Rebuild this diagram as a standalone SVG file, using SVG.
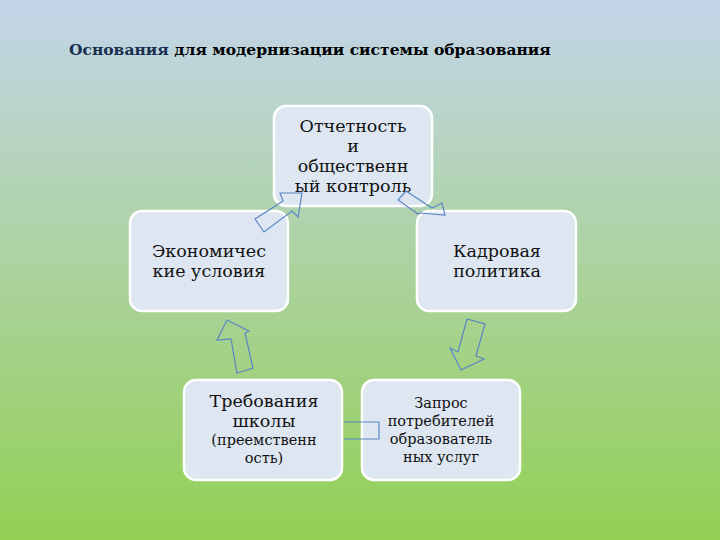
<svg xmlns="http://www.w3.org/2000/svg" width="720" height="540" viewBox="0 0 720 540">
<defs>
<linearGradient id="bg" x1="0" y1="0" x2="0" y2="1">
<stop offset="0" stop-color="#c3d5ea"/>
<stop offset="0.35" stop-color="#b2d3b4"/>
<stop offset="1" stop-color="#93d054"/>
</linearGradient>
<style>
.box{fill:#dde6f1;stroke:#ffffff;stroke-width:2.5}
.t{font-family:'DejaVu Serif','Liberation Serif',serif;font-size:17.5px;fill:#111;text-anchor:middle}
.s{font-size:14.5px}
.arr{fill:none;stroke:#5b86c6;stroke-width:1.2}
</style>
</defs>
<rect width="720" height="540" fill="url(#bg)"/>
<text x="69" y="55" font-family="'DejaVu Serif','Liberation Serif',serif" font-size="15.5" font-weight="bold" fill="#000"><tspan fill="#17304f">Основания</tspan> для модернизации системы образования</text>
<g id="n1"><rect class="box" x="274" y="106" width="158" height="100" rx="12"/>
<text class="t" x="353" y="132">Отчетность</text><text class="t" x="353" y="152">и</text><text class="t" x="353" y="172">общественн</text><text class="t" x="353" y="192">ый контроль</text></g>
<g id="n2"><rect class="box" x="417" y="211" width="159" height="100" rx="12"/>
<text class="t" x="497" y="257">Кадровая</text><text class="t" x="497" y="277">политика</text></g>
<g id="n3"><rect class="box" x="362" y="380" width="158" height="100" rx="12"/>
<text class="t s" x="441" y="408">Запрос</text><text class="t s" x="441" y="426">потребителей</text><text class="t s" x="441" y="444">образователь</text><text class="t s" x="441" y="462">ных услуг</text></g>
<g id="n4"><rect class="box" x="184" y="380" width="158" height="100" rx="12"/>
<text class="t" x="264" y="407">Требования</text><text class="t" x="264" y="427">школы</text><text class="t s" x="264" y="445">(преемственн</text><text class="t s" x="264" y="463">ость)</text></g>
<g id="n5"><rect class="box" x="130" y="211" width="158" height="100" rx="12"/>
<text class="t" x="209" y="257">Экономичес</text><text class="t" x="209" y="277">кие условия</text></g>
<g id="connectors">
<polygon class="arr" points="255,219 283,201 280,193 302,193 298,217 292,211 264,232"/>
<polygon class="arr" points="398,200 406,191 432,208 442,203 445,215 420,213 418,214"/>
<polygon class="arr" points="467,319 485,324 476,356 484,359 461,370 450,348 458,352"/>
<polygon class="arr" points="237,373 253,368 245,333 249,331 227,320 217,340 231,339"/>
<path class="arr" d="M344 422 H379 V439 H344"/>
</g>
</svg>
